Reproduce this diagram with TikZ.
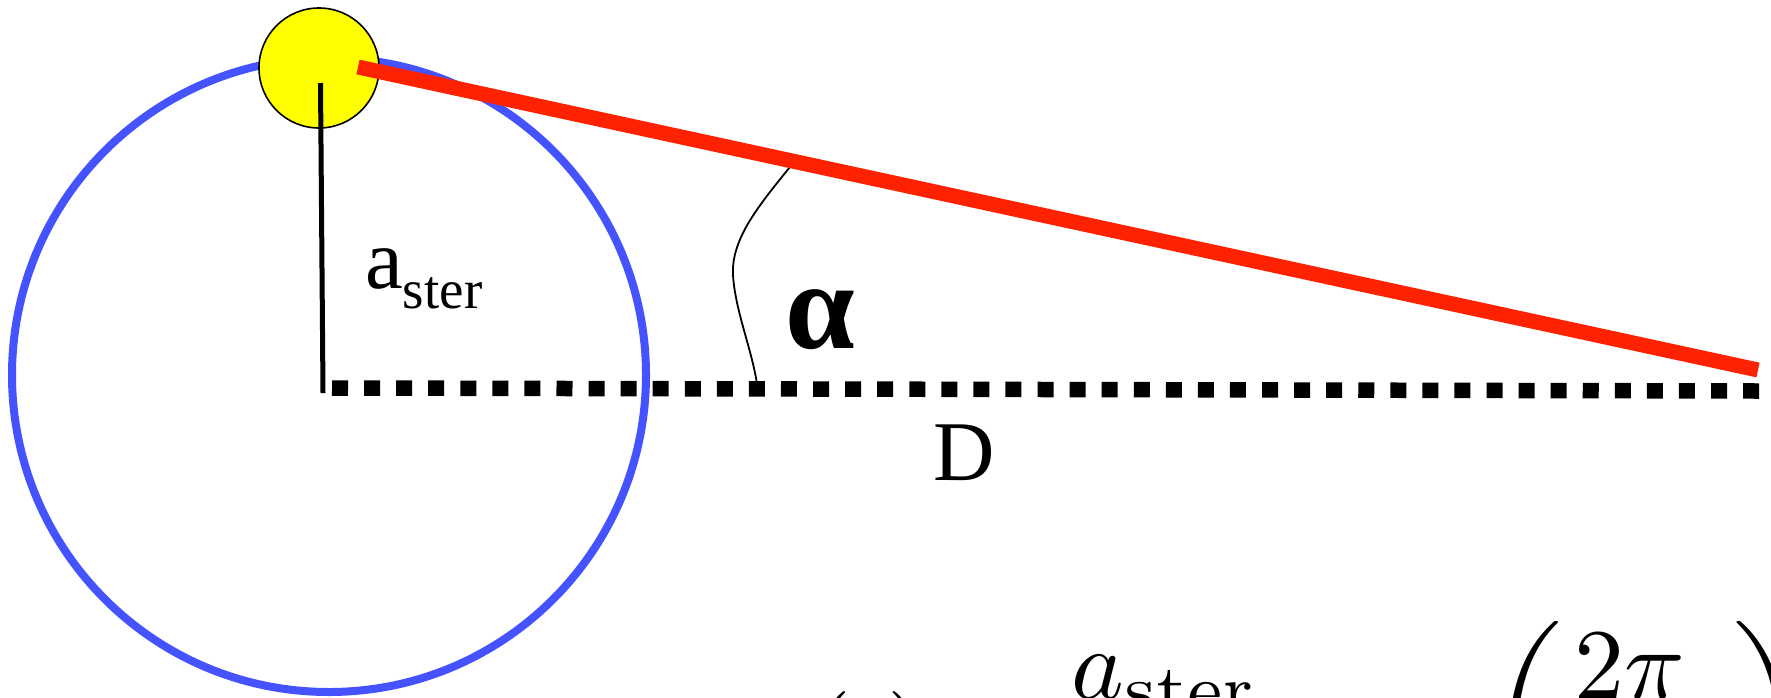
\documentclass[tikz,border=0pt]{standalone}
\usepackage[no-math]{fontspec}
\usepackage{amsmath}
\newfontfamily\tnr{Liberation Serif}
\definecolor{orbitblue}{RGB}{69,83,255}
\definecolor{beamred}{RGB}{255,34,0}
\definecolor{staryellow}{RGB}{255,255,0}
\begin{document}
\begin{tikzpicture}[x=1pt,y=-1pt,
  orbit/.style={draw=orbitblue, line width=8pt},
  starbody/.style={circle, draw=black, line width=1.6pt, fill=staryellow, minimum size=120pt, inner sep=0pt},
  radius line/.style={draw=black, line width=5pt},
  beam/.style={draw=beamred, line width=15pt},
  baseline dots/.style={draw=black, line width=15.5pt, dash pattern=on 16pt off 16.07pt},
  angle line/.style={draw=black, line width=1.8pt},
  label/.style={inner sep=0pt, anchor=base west, font=\tnr}
]
\useasboundingbox (0,0) rectangle (1771,697);
\clip (0,0) rectangle (1771,697);
\fill[white] (0,0) rectangle (1771,697);

\coordinate (O) at (329,375);
\draw[orbit] (O) circle (317);

\node[starbody] (S) at (319,68) {};

\coordinate (rtop) at (320.5,83);
\coordinate (rbot) at (323,393);
\draw[radius line] (rtop) -- (rbot);

\coordinate (arcA) at (794,162);
\coordinate (arcB) at (757,384);
\draw[angle line] (arcA) .. controls (760,204) and (731,238) .. (733,275)
  .. controls (735,310) and (752,350) .. (arcB);

\coordinate (beamstart) at (358,67);
\coordinate (beamend) at (1758,370);
\draw[beam] (beamstart) -- (beamend);

\coordinate (Dstart) at (332,388);
\coordinate (Dend) at (1759,391);
\draw[baseline dots] (Dstart) -- (Dend);

\node[label, font=\tnr\fontsize{85}{90}\selectfont] (aster) at (365,288)
  {a\raisebox{-20pt}{\fontsize{55}{60}\selectfont ster}};
\node[label, font=\tnr\bfseries\fontsize{125}{130}\selectfont] (alpha) at (785,348) {α};
\node[label, font=\tnr\fontsize{85}{90}\selectfont] (Dlab) at (933,480) {D};

\node[inner sep=0pt, anchor=base west, scale=10] (formula) at (746,766)
  {$\displaystyle \alpha(t)=\frac{a_{\mathrm{ster}}}{D}\,\sin\hspace{4.5pt}\left(\frac{2\pi}{P}t\right)$};
\end{tikzpicture}
\end{document}
